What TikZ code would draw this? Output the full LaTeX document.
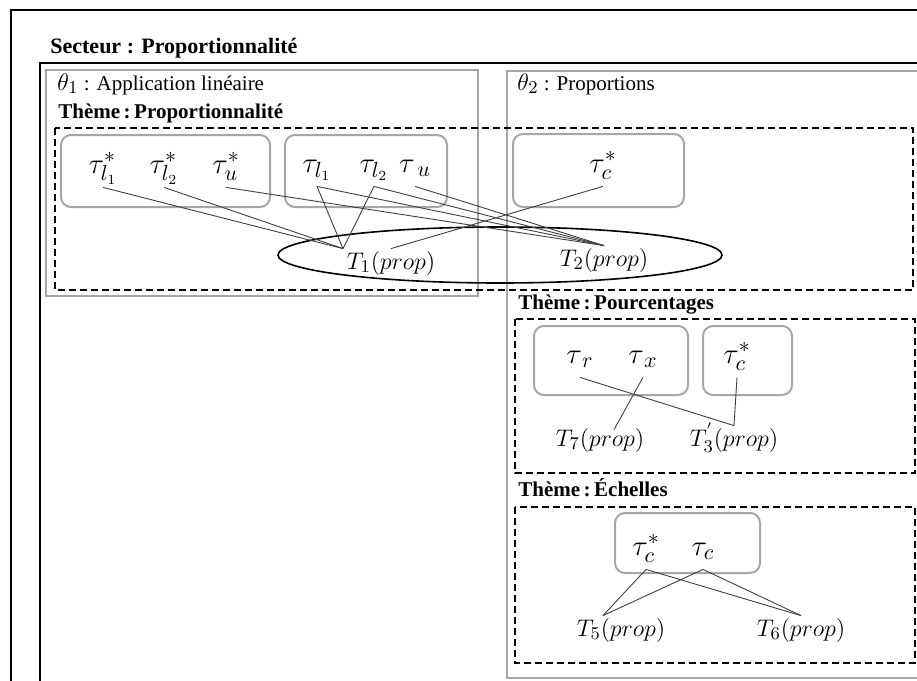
\documentclass[tikz,border=0pt]{standalone}
\usepackage{fontspec}
\setmainfont{Liberation Serif}
\usetikzlibrary{positioning}

\tikzset{
  framebox/.style={draw=black, line width=1pt},
  scenebox/.style={draw=black!35, line width=1.1pt},
  themebox/.style={draw=black, line width=1pt, dash pattern=on 3.5pt off 2pt},
  termbox/.style={draw=black!35, line width=1pt, rounded corners=5pt},
  termnode/.style={font=\fontsize{15}{15}\selectfont, inner sep=1pt, text height=11pt, text depth=6pt, anchor=base},
  tasknode/.style={font=\fontsize{13}{13}\selectfont, inner sep=1pt, text height=9pt, text depth=3pt},
  link/.style={draw=black!75, line width=0.45pt},
  headlabel/.style={font=\fontsize{10.5}{12}\selectfont\bfseries, anchor=base west, inner sep=0pt},
  praxlabel/.style={font=\fontsize{10.5}{12}\selectfont, anchor=base west, inner sep=0pt}
}

\begin{document}
\begin{tikzpicture}[x=0.5pt, y=-0.5pt]
% coordinates in pixels of the 917 x 681 sheet, y pointing down
\useasboundingbox (0,0) rectangle (917,681);
\clip (0,0) rectangle (917,681);
\draw[framebox] (11,690) -- (11,10) -- (930,10);
\draw[framebox] (40,690) -- (40,63) -- (930,63);
\node[headlabel, font=\fontsize{11}{12}\selectfont\bfseries] (sect) at (50,53) {Secteur : Proportionnalité};
% the two praxeologies
\draw[scenebox] (46,70) rectangle (478,296);
\draw[scenebox] (507,71) rectangle (930,678);
\node[praxlabel] (th1) at (57,90) {{\fontsize{13}{13}\selectfont$\theta_{1}$} : Application linéaire};
\node[praxlabel] (th2) at (517,90) {{\fontsize{13}{13}\selectfont$\theta_{2}$} : Proportions};
% themes
\node[headlabel] (thprop) at (58,118) {Thème\,:\,Proportionnalité};
\node[headlabel] (thpour) at (518,309) {Thème\,:\,Pourcentages};
\node[headlabel] (thech) at (518,496) {Thème\,:\,Échelles};
\draw[themebox] (55,128) rectangle (913,290);
\draw[themebox] (515,319) rectangle (915,473);
\draw[themebox] (515,507) rectangle (915,663);
% boxes of task types
\foreach \xa/\ya/\xb/\yb in {61/135/270/207, 285/135/447/207, 513/134/684/207, 534/326/688/395, 703/326/792/395, 615/513/760/573}
  { \draw[termbox] (\xa,\ya) rectangle (\xb,\yb); }
\foreach \n/\x/\y/\t in {ta1/103/173/{\tau^{*}_{l_1}}, ta2/164/173/{\tau^{*}_{l_2}}, ta3/226/173/{\tau^{*}_{u}},
    tb1/317/172/{\tau_{l_1}}, tb2/374/172/{\tau_{l_2}}, tb3/415/172/{\tau_{\;u}}, tc/603/172/{\tau^{*}_{c}},
    pr/580/363/{\tau_{\,r}}, px/643/363/{\tau_{\,x}}, pc/737/363/{\tau^{*}_{c}},
    ec1/646/555/{\tau^{*}_{c}}, ec2/703/555/{\tau_{c}}}
  { \node[termnode] (\n) at (\x,\y) {$\t$}; }
% techniques
\draw[line width=0.8pt] (500,255) ellipse [x radius=111pt, y radius=14pt];
\node[tasknode] (T1) at (391,263) {$T_{1}(prop)$};
\node[tasknode] (T2) at (604,260) {$T_{2}(prop)$};
\node[tasknode] (T7) at (600,440) {$T_{7}(prop)$};
\node[tasknode] (T3) at (734,440) {$T^{'}_{3}(prop)$};
\node[tasknode] (T5) at (621,630) {$T_{5}(prop)$};
\node[tasknode] (T6) at (801,630) {$T_{6}(prop)$};
\coordinate (T1a) at ([xshift=-24pt]T1.north);
\coordinate (T7a) at ([xshift=7pt,yshift=-2pt]T7.north);
\coordinate (T5a) at ([xshift=-9pt]T5.north);
\foreach \a/\b in {ta1/T1a, ta2/T1a, ta3/T2.north, tb1/T1a, tb1/T2.north, tb2/T1a, tb2/T2.north, tb3/T2.north, tc/T1.north,
    pr/T3.north, px/T7a, pc/T3.north, ec1/T5a, ec1/T6.north, ec2/T5a, ec2/T6.north}
  { \draw[link] (\a.south) -- (\b); }
\end{tikzpicture}
\end{document}
